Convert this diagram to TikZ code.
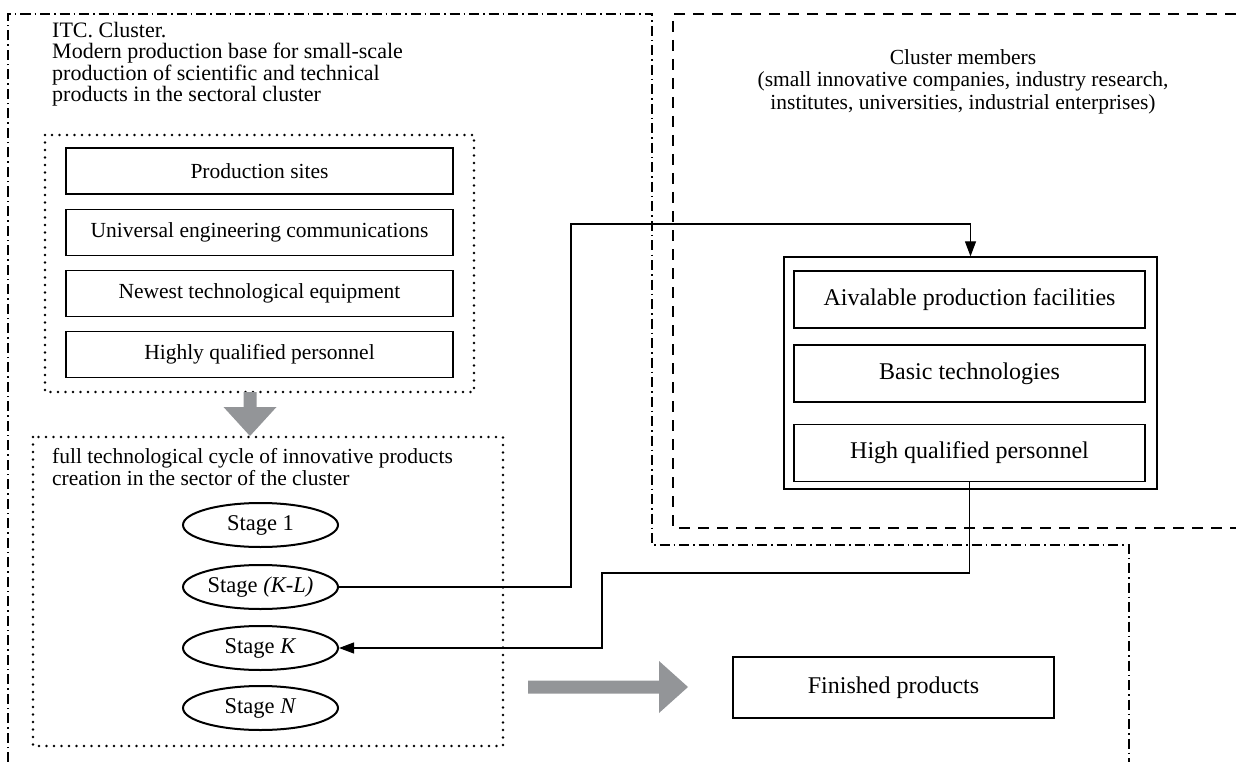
\documentclass[tikz,border=0pt]{standalone}
\usepackage{fontspec}
\setmainfont{Liberation Serif}
\usetikzlibrary{arrows.meta,shapes.geometric}
\definecolor{arrowgray}{HTML}{939598}
\tikzset{
  txt/.style={inner sep=0pt, font=\fontsize{21.5}{22.5}\selectfont},
  itembox/.style={draw=black, line width=1.3pt, minimum width=387pt, minimum height=46pt, inner sep=0pt, font=\fontsize{21.5}{22.5}\selectfont},
  membox/.style={draw=black, line width=1.3pt, minimum width=351pt, minimum height=57pt, inner sep=0pt, font=\fontsize{24}{26}\selectfont},
  stagebox/.style={draw=black, ellipse, line width=2pt, minimum width=155pt, minimum height=44pt, inner sep=0pt, font=\fontsize{22.5}{24}\selectfont},
  dotbox/.style={draw=black, line width=2.9pt, line cap=round, dash pattern=on 0pt off 7.5pt},
  dashdotline/.style={draw=black, line width=1.2pt, dash pattern=on 10pt off 4pt on 1.5pt off 4pt},
  dashline/.style={draw=black, line width=1.2pt, dash pattern=on 11pt off 8pt},
  conn/.style={draw=black, line width=1.1pt},
  tip/.style={-{Triangle[length=15pt,width=11pt]}},
  bigarrow/.style={fill=arrowgray, draw=none}
}
\begin{document}
\begin{tikzpicture}[x=1pt,y=-1pt]
\useasboundingbox (0,0) rectangle (1236,762);
% outer dash-dot region
\draw[dashdotline] (8,762) -- (8,14) -- (652,14) -- (652,545) -- (1129,545) -- (1129,762);
% dashed cluster members region
\draw[dashline] (1236,14) -- (673,14) -- (673,528) -- (1236,528);
% titles
\node[txt, anchor=north west, align=left, font=\fontsize{22}{21.5}\selectfont] (title) at (52,22)
  {ITC. Cluster.\\Modern production base for small-scale\\production of scientific and technical\\products in the sectoral cluster};
\node[txt, anchor=north, align=center] (memtitle) at (963,49)
  {Cluster members\\(small innovative companies, industry research,\\institutes, universities, industrial enterprises)};
% dotted box 1
\draw[dotbox] (45,135) rectangle (474,392);
\node[itembox] (b1) at (259.5,171) {Production sites};
\node[itembox] (b2) at (259.5,232.5) {Universal engineering communications};
\node[itembox] (b3) at (259.5,293.5) {Newest technological equipment};
\node[itembox] (b4) at (259.5,354.5) {Highly qualified personnel};
% gray down arrow
\fill[bigarrow] (243.5,392) -- (256.5,392) -- (256.5,407) -- (276.5,407) -- (250,436) -- (223.5,407) -- (243.5,407) -- cycle;
% dotted box 2
\draw[dotbox] (33,437) rectangle (503,746);
\node[txt, anchor=north west, align=left] (cycle) at (52,448)
  {full technological cycle of innovative products\\creation in the sector of the cluster};
\node[stagebox] (s1) at (260.5,525) {Stage 1};
\node[stagebox] (skl) at (260.5,587) {Stage \textit{(K-L)}};
\node[stagebox] (sk) at (260.5,648) {Stage \textit{K}};
\node[stagebox] (sn) at (260.5,708) {Stage \textit{N}};
% members box
\node[draw=black, line width=1.3pt, minimum width=373pt, minimum height=232pt, inner sep=0pt] (members) at (970.5,373) {};
\node[membox] (m1) at (969.5,299.5) {Aivalable production facilities};
\node[membox] (m2) at (969.5,373.5) {Basic technologies};
\node[membox] (m3) at (969.5,453) {High qualified personnel};
% connectors
\draw[conn, tip] (skl.east) -| (571,224) -| (members.north);
\draw[conn, tip] (m3.south) |- (602,573) |- (sk.east);
% gray right arrow
\fill[bigarrow] (528,680.5) -- (659,680.5) -- (659,661) -- (688,687) -- (659,713) -- (659,693.5) -- (528,693.5) -- cycle;
% finished products
\node[draw=black, line width=1.3pt, minimum width=321pt, minimum height=61pt, inner sep=0pt, font=\fontsize{24}{26}\selectfont] (fin) at (893.5,687.5) {Finished products};
\end{tikzpicture}
\end{document}
